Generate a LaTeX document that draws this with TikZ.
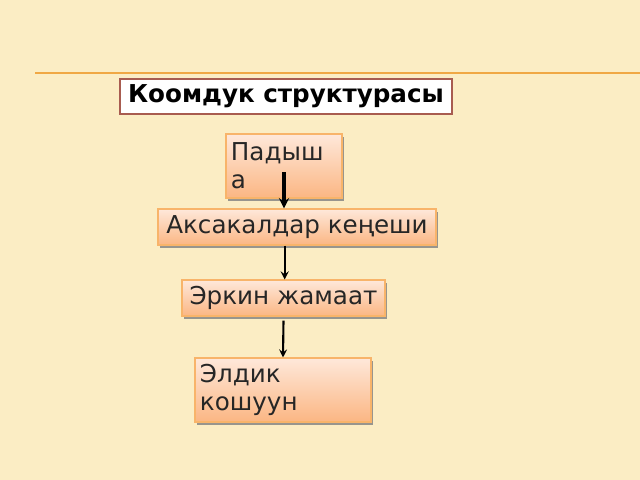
\documentclass[tikz,border=0pt]{standalone}
\usepackage{fontspec}
\setmainfont{DejaVu Sans}
\usepackage{xcolor}
\usetikzlibrary{arrows, shadows}
\definecolor{slidebg}{HTML}{FBEDC4}
\definecolor{rulecol}{HTML}{F0A844}
\definecolor{boxtop}{HTML}{FEE8DA}
\definecolor{boxbot}{HTML}{FBB683}
\definecolor{boxline}{HTML}{F8B46A}
\definecolor{titleline}{HTML}{A85C50}
\tikzstyle{heading} = [rectangle, minimum width=8.3cm, minimum height=0.875cm, text centered, draw=titleline, line width=1.2pt, fill=white, font=\fontsize{17.5}{20}\selectfont\bfseries, inner sep=0pt]
\tikzstyle{level} = [rectangle, minimum height=0.9cm, text centered, draw=boxline, line width=0.8pt, top color=boxtop, bottom color=boxbot, text=black!85, font=\fontsize{17.5}{20}\selectfont, drop shadow={shadow xshift=0.04cm, shadow yshift=-0.08cm, fill=black!50, opacity=0.8}]
\tikzstyle{twoline} = [level, minimum height=1.6cm, inner xsep=0.125cm, align=left]
\tikzstyle{arrow} = [line width=1.5pt,->,>=stealth]

\begin{document}
\begin{tikzpicture}[x=0.025cm, y=-0.025cm]
\fill[slidebg] (0,0) rectangle (640,480);
\useasboundingbox (0,0) rectangle (640,480);
\draw[rulecol, line width=1.2pt] (35,73) -- (640,73);

\node (title) [heading] at (286,96.5) {Коомдук структурасы};
\node (padysha) [twoline, minimum width=2.9cm, text width=2.65cm] at (284,166) {Падыш\\а};
\node (aksakal) [level, minimum width=6.95cm] at (297,227) {Аксакалдар кеңеши};
\node (erkin) [level, minimum width=5.075cm] at (283.5,298) {Эркин жамаат};
\node (eldik) [twoline, minimum width=4.4cm, text width=4.15cm] at (283,390) {Элдик\\кошуун};

\draw [arrow, line width=2.2pt] ([yshift=-0.15cm]padysha.center) -- (padysha.center |- aksakal.north);
\draw [arrow] ([xshift=0.03cm]erkin.north |- aksakal.south) -- ([xshift=0.03cm]erkin.north);
\draw [arrow] ([yshift=-0.1cm]erkin.south) -- (eldik.north);

\end{tikzpicture}
\end{document}
